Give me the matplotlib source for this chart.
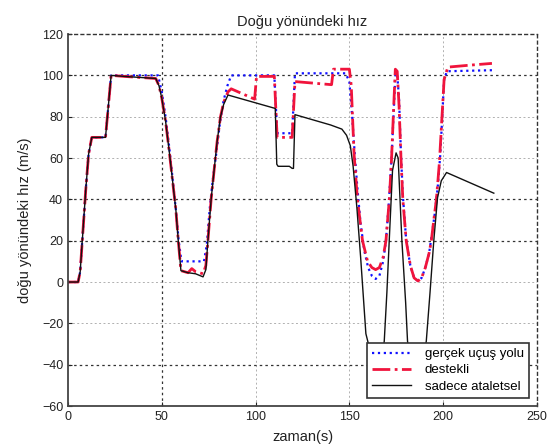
import numpy as np
import matplotlib
matplotlib.use("Agg")
import matplotlib.pyplot as plt

plt.rcParams['font.family'] = ['Liberation Sans', 'DejaVu Sans']

# gerçek uçuş yolu (true path)
t_true = [0, 5.4, 6.5, 8, 9.5, 11, 12.7, 20, 23, 48, 50, 52, 54, 56, 57.5, 59, 60.5,
          72.5, 74, 75.5, 77, 79, 81, 83, 85, 87, 110, 111.5, 119.5, 121, 148, 150,
          151.5, 153, 154.5, 156, 158, 160, 162, 164, 166, 168, 169.5, 171, 172.5,
          173.5, 174.5, 175.5, 176.5, 177.5, 178.5, 180.3, 182.5, 184.5, 186.6, 188.5,
          190.5, 192.5, 194, 195.5, 197, 198.5, 199.5, 200.5, 202, 226]
v_true = [0, 0, 5, 25, 45, 62, 70, 70, 100, 100, 92, 80, 65, 48, 35, 20, 10,
          10, 18, 35, 48, 62, 77, 88, 95, 100, 100, 72, 72, 101, 101, 97,
          80, 60, 43, 28, 15, 7, 3, 1.5, 3, 10, 20, 38, 60,
          80, 100, 101, 88, 62, 42, 20, 8, 2, 0.5, 2,
          7, 14, 23, 33, 45, 62, 80, 98, 102, 102.5]

# destekli (aided)
t_aided = [0, 5.4, 6.5, 8, 9.5, 11, 12.7, 20, 23, 30, 46.8, 48.5, 50, 52, 54, 56, 57.5,
           58.8, 60.2, 64, 66, 68, 72, 73.5, 74.6, 76.3, 78, 79.5, 81.3, 83, 85.3, 87,
           99.5, 100.5, 110, 111.5, 119.5, 121, 140.5, 141.5, 150, 151, 152.5, 154.3,
           157, 159.7, 162, 164, 166, 168, 169.5, 171.3, 172.5, 173.5, 174.5, 175.5,
           176.5, 177.5, 178.5, 180.3, 182.5, 184.5, 186.6, 188.5, 190.5, 192.5, 193.7,
           195, 196.4, 198, 199.5, 200.5, 202.5, 215, 226]
v_aided = [0, 0, 5, 25, 45, 62, 70, 70, 100, 99.5, 98.5, 95, 89, 78, 63, 47, 35,
           20, 5.5, 4.5, 6.5, 5, 4, 8, 20, 40, 55, 68, 80, 87, 92, 93.5,
           88.5, 99.5, 99.5, 70, 70, 97, 95.5, 103, 103, 95, 62, 40,
           20, 10, 7, 6, 7, 12, 20, 40, 60, 82, 103, 102,
           85, 60, 40, 20, 8, 2, 0.5, 2, 7, 14, 20,
           30, 40, 58, 82, 98, 104, 105, 105.8]

# sadece ataletsel (inertial only)
t_ins = [0, 5.4, 6.5, 8, 9.5, 11, 12.7, 20, 23, 30, 46.8, 48.5, 50, 52, 54, 56, 57.5,
         58.8, 60.2, 64, 68, 72, 73.5, 74.6, 76.3, 78, 79.5, 81.3, 83, 85.3, 110.5,
         111.3, 112, 118, 119.5, 120.2, 121, 140, 146, 148.5, 150.5, 152, 154, 156,
         158.8, 161, 163, 167.5, 168.6, 170, 171.5, 173, 174.9, 176, 178, 180, 181,
         182.5, 189.5, 191, 193, 195, 197, 199, 201.8, 227]
v_ins = [0, 0, 5, 25, 45, 62, 70, 70, 100, 99.5, 98.5, 95, 89, 78, 63, 47, 35,
         20, 5.5, 4.5, 4, 2.5, 6, 20, 40, 55, 68, 80, 86, 90.5, 84,
         57, 56, 56, 55, 55, 81, 76, 74, 71, 66, 56, 36, 12,
         -25, -33, -38, -38, -28.5, -5, 25, 54, 62.5, 60, 20, -10, -28.6,
         -38, -38, -28.6, -5, 20, 40.8, 49, 53, 43]

xticks = [0, 50, 100, 150, 200, 250]
yticks = [-60, -40, -20, 0, 20, 40, 60, 80, 100, 120]
dark_x = [50]
dark_y = [-40, 20, 40, 100]

fig = plt.figure(figsize=(5.55, 4.48), dpi=100)
ax = fig.add_axes([0.1225, 0.0937, 0.845, 0.8303])

ax.plot(t_true, v_true, ':', color='#1010ff', lw=1.6, label='gerçek uçuş yolu')
ax.plot(t_aided, v_aided, '-.', color='#f0143c', lw=2.0, label='destekli')
ax.plot(t_ins, v_ins, '-', color='#111111', lw=1.0, label='sadece ataletsel')

ax.set_xlim(0, 250)
ax.set_ylim(-60, 120)
ax.set_xticks(xticks)
ax.set_yticks(yticks)
ax.tick_params(direction='in', length=3, labelsize=9, colors='#222222')

# dotted grid, some lines heavier than others
for x in xticks[1:-1]:
    c = '#333333' if x in dark_x else '#b0b0b0'
    ax.axvline(x, color=c, ls=(0, (2, 2.5)), lw=0.9 if x in dark_x else 0.7, zorder=0)
for y in yticks[1:-1]:
    c = '#333333' if y in dark_y else '#b0b0b0'
    ax.axhline(y, color=c, ls=(0, (2, 2.5)), lw=0.9 if y in dark_y else 0.7, zorder=0)

for s in ['left', 'bottom']:
    ax.spines[s].set_color('#444444')
    ax.spines[s].set_linewidth(1.3)
for s in ['top', 'right']:
    ax.spines[s].set_color('#333333')
    ax.spines[s].set_linestyle((0, (2, 2.5)))
    ax.spines[s].set_linewidth(1.0)

ax.set_title('Doğu yönündeki hız', fontsize=10.5, color='#222222', pad=6)
ax.set_xlabel('zaman(s)', fontsize=10.5, color='#222222', labelpad=5)
ax.set_ylabel('doğu yönündeki hız (m/s)', fontsize=10.5, color='#222222', labelpad=7)

leg = ax.legend(loc='lower right', bbox_to_anchor=(0.997, 0.004), fontsize=9.5,
                frameon=True, fancybox=False, framealpha=1, edgecolor='#333333',
                handlelength=3.0, borderpad=0.4, labelspacing=0.3, handletextpad=1.0)
leg.get_frame().set_linewidth(1.2)

fig.savefig('out.png', dpi=100)
